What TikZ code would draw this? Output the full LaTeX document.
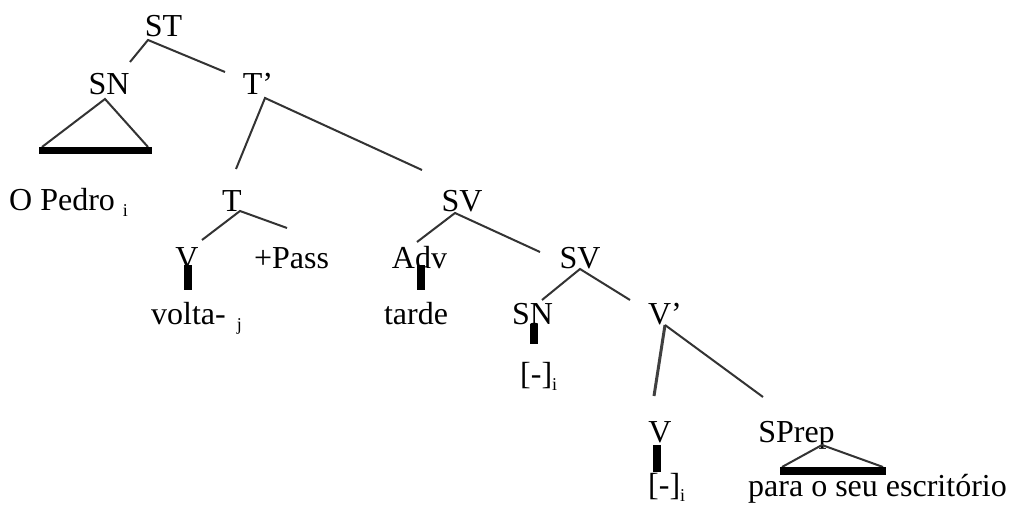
\documentclass[tikz,border=0pt]{standalone}
\usepackage{fontspec}
\setmainfont{Liberation Serif}
\newcommand\subsc[1]{\raisebox{-6pt}{\fontsize{18}{18}\selectfont #1}}
\begin{document}
\begin{tikzpicture}[x=1pt,y=-1pt,
  lbl/.style={inner sep=0pt, anchor=base, font=\fontsize{32}{32}\selectfont},
  lblw/.style={lbl, anchor=base west},
  branch/.style={line width=2pt, draw=black!80},
  barline/.style={line width=8pt, draw=black},
  baseline/.style={line width=7.5pt, draw=black}]
\useasboundingbox (0,0) rectangle (1011,508);
% labels
\node[lbl] (ST) at (163.5,37) {ST};
\node[lbl] (SN1) at (109,95) {SN};
\node[lbl] (Tb1) at (258,95) {T’};
\node[lblw] (pedro) at (9,210) {O Pedro\hspace{8pt}\subsc{i}};
\node[lbl] (T2) at (232,211) {T};
\node[lbl] (SV1) at (462,211) {SV};
\node[lbl] (V1) at (187,268) {V};
\node[lbl] (pass) at (291.5,268) {+Pass};
\node[lbl] (Adv) at (419.5,268) {Adv};
\node[lbl] (SV2) at (580,268) {SV};
\node[lblw] (volta) at (151,324) {volta-\hspace{11pt}\subsc{j}};
\node[lbl] (tarde) at (416,324) {tarde};
\node[lbl] (SN2) at (532.5,324) {SN};
\node[lbl] (Vb2) at (665,324) {V’};
\node[lblw] (trace1) at (520,384.5) {[-]\subsc{i}};
\node[lbl] (V3) at (660,442) {V};
\node[lbl] (SPrep) at (796.5,442) {SPrep};
\node[lblw] (trace2) at (648,495) {[-]\subsc{i}};
\node[lblw] (para) at (748,496) {para o seu escritório};
% branch points
\coordinate (ST-a) at (148,40);
\coordinate (SN1-t) at (130,62);
\coordinate (Tb1-t) at (225,72);
\coordinate (SN1-a) at (105,99);
\coordinate (SN1-l) at (42,147);
\coordinate (SN1-r) at (148,147);
\coordinate (SN1-bl) at (39,150.5);
\coordinate (SN1-br) at (152,150.5);
\coordinate (Tb1-a) at (265,98);
\coordinate (T2-t) at (236,169);
\coordinate (SV1-t) at (422,170);
\coordinate (T2-a) at (240,211);
\coordinate (V1-t) at (202,240);
\coordinate (pass-t) at (287,228);
\coordinate (V1-b1) at (187.5,265);
\coordinate (V1-b2) at (187.5,290);
\coordinate (SV1-a) at (455,213);
\coordinate (Adv-t) at (417,242);
\coordinate (SV2-t) at (540,252);
\coordinate (Adv-b1) at (421,265);
\coordinate (Adv-b2) at (421,290);
\coordinate (SV2-a) at (580,269);
\coordinate (SN2-t) at (542,300);
\coordinate (Vb2-t) at (630,300);
\coordinate (SN2-b1) at (534,324);
\coordinate (SN2-b2) at (534,344);
\coordinate (Vb2-a) at (665,325);
\coordinate (V3-t) at (654,396);
\coordinate (SPrep-t) at (763,397);
\coordinate (V3-b1) at (656.5,445);
\coordinate (V3-b2) at (656.5,472);
\coordinate (SPrep-a) at (822,445);
\coordinate (SPrep-l) at (782,467);
\coordinate (SPrep-r) at (883,467);
\coordinate (SPrep-bl) at (780,471);
\coordinate (SPrep-br) at (886,471);
% branches
\draw[branch] (SN1-t) -- (ST-a) -- (Tb1-t);
\draw[branch] (SN1-l) -- (SN1-a) -- (SN1-r);
\draw[baseline] (SN1-bl) -- (SN1-br);
\draw[branch] (T2-t) -- (Tb1-a) -- (SV1-t);
\draw[branch] (V1-t) -- (T2-a) -- (pass-t);
\draw[barline] (V1-b1) -- (V1-b2);
\draw[branch] (Adv-t) -- (SV1-a) -- (SV2-t);
\draw[barline] (Adv-b1) -- (Adv-b2);
\draw[branch] (SN2-t) -- (SV2-a) -- (Vb2-t);
\draw[barline] (SN2-b1) -- (SN2-b2);
\draw[line width=3pt, draw=black!75] (Vb2-a) -- (V3-t);
\draw[branch] (Vb2-a) -- (SPrep-t);
\draw[barline] (V3-b1) -- (V3-b2);
\draw[branch] (SPrep-l) -- (SPrep-a) -- (SPrep-r);
\draw[line width=8pt, draw=black] (SPrep-bl) -- (SPrep-br);
\end{tikzpicture}
\end{document}
